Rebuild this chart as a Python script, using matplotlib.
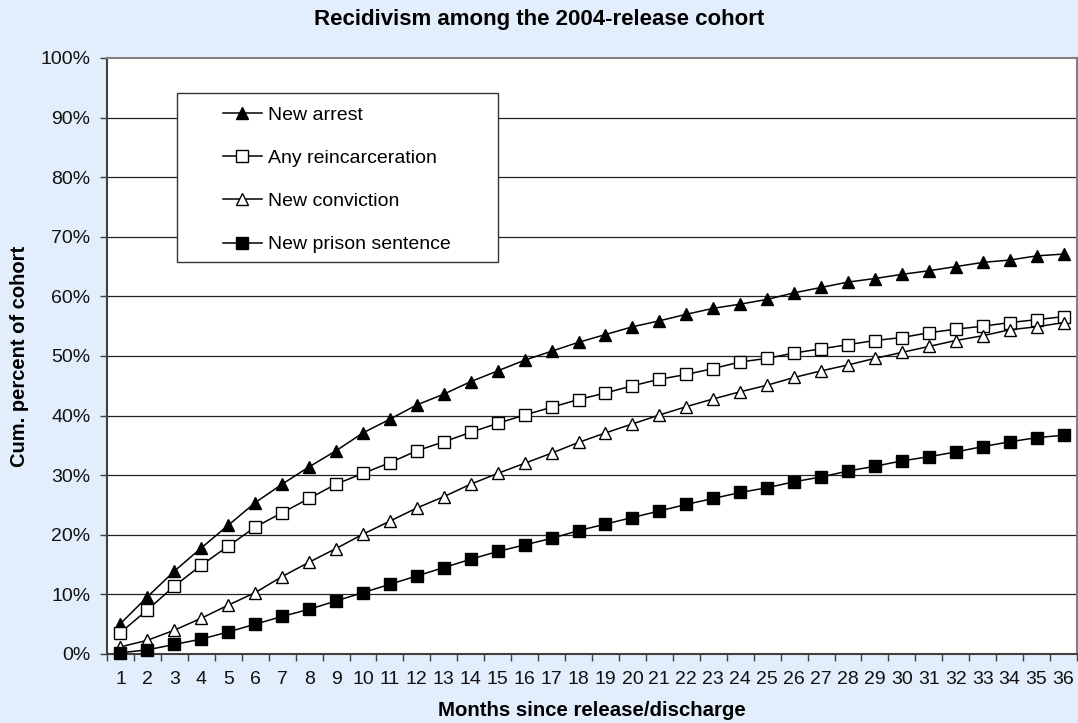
import matplotlib.pyplot as plt
from matplotlib.patches import Rectangle
from matplotlib.ticker import FixedLocator, NullFormatter

months = list(range(1, 37))

new_arrest = [5.1, 9.6, 13.9, 17.8, 21.6, 25.4, 28.5, 31.4, 34.1, 37.1,
              39.4, 41.8, 43.6, 45.7, 47.5, 49.3, 50.8, 52.3, 53.6, 54.9,
              55.9, 57.0, 58.0, 58.7, 59.5, 60.6, 61.5, 62.4, 63.0, 63.7,
              64.3, 65.0, 65.7, 66.1, 66.8, 67.1]

any_reincarceration = [3.6, 7.4, 11.4, 14.9, 18.1, 21.3, 23.7, 26.1, 28.5, 30.3,
                       32.1, 34.1, 35.6, 37.2, 38.7, 40.1, 41.4, 42.7, 43.8, 45.0,
                       46.1, 46.9, 47.9, 49.0, 49.6, 50.5, 51.2, 51.9, 52.6, 53.1,
                       53.9, 54.5, 55.0, 55.6, 56.1, 56.6]

new_conviction = [1.2, 2.3, 4.0, 6.0, 8.2, 10.3, 13.0, 15.4, 17.7, 20.1,
                  22.3, 24.5, 26.4, 28.5, 30.3, 32.0, 33.7, 35.5, 37.1, 38.6,
                  40.1, 41.5, 42.8, 44.0, 45.1, 46.4, 47.5, 48.5, 49.6, 50.6,
                  51.6, 52.6, 53.4, 54.4, 54.9, 55.6]

new_prison = [0.2, 0.7, 1.6, 2.5, 3.7, 5.0, 6.3, 7.5, 8.9, 10.3,
              11.7, 13.1, 14.5, 15.9, 17.2, 18.3, 19.4, 20.7, 21.8, 22.9,
              24.0, 25.1, 26.1, 27.1, 27.9, 28.9, 29.7, 30.7, 31.5, 32.4,
              33.1, 33.9, 34.8, 35.6, 36.3, 36.7]

y_ticks = list(range(0, 101, 10))
y_tick_labels = [f"{v}%" for v in y_ticks]

bg = "#E2EEFB"
plt.rcParams['font.family'] = ['Liberation Sans', 'DejaVu Sans']

fig = plt.figure(figsize=(10.78, 7.23), dpi=100, facecolor=bg)
ax = fig.add_axes([107 / 1078, 69 / 723, 970 / 1078, 596 / 723])
ax.set_facecolor("white")

style = dict(color="black", lw=1.1, mec="black", mew=1.0, clip_on=False, zorder=4)
ax.plot(months, new_arrest, marker="^", ms=9, mfc="black", label="New arrest", **style)
ax.plot(months, any_reincarceration, marker="s", ms=8, mfc="white", label="Any reincarceration", **style)
ax.plot(months, new_conviction, marker="^", ms=9, mfc="white", label="New conviction", **style)
ax.plot(months, new_prison, marker="s", ms=8, mfc="black", label="New prison sentence", **style)

ax.set_xlim(0.5, 36.5)
ax.set_ylim(0, 100)

# y axis: percent ticks with horizontal gridlines
ax.set_yticks(y_ticks)
ax.set_yticklabels(y_tick_labels)
ax.tick_params(axis="y", direction="out", length=5, width=1, color="#404040",
               pad=7, labelsize=14, labelcolor="#111111")
for v in y_ticks[1:-1]:
    ax.axhline(v, color="#222222", lw=0.9, zorder=1)

# x axis: labels at month centres, ticks between categories
ax.set_xticks(months)
ax.set_xticklabels([str(m) for m in months],
                   fontfamily=['Liberation Sans Narrow', 'Liberation Sans'])
ax.xaxis.set_minor_locator(FixedLocator([m + 0.5 for m in range(0, 37)]))
ax.xaxis.set_minor_formatter(NullFormatter())
ax.tick_params(axis="x", which="major", length=0, pad=12, labelsize=14, labelcolor="#111111")
ax.tick_params(axis="x", which="minor", direction="out", length=5, width=1, color="#404040")

for side in ["top", "right"]:
    ax.spines[side].set_color("#808080")
    ax.spines[side].set_linewidth(1.5)
for side in ["left", "bottom"]:
    ax.spines[side].set_color("#404040")
    ax.spines[side].set_linewidth(1.5)

# legend box drawn over the gridlines
ax.add_patch(Rectangle((70 / 970, 392 / 596), 321 / 970, 169 / 596, transform=ax.transAxes,
                       facecolor="white", edgecolor="#333333", lw=1.0, zorder=5))
leg = ax.legend(loc="upper left", bbox_to_anchor=(116 / 970, 548 / 596), frameon=False,
                fontsize=14, handlelength=2.0, handletextpad=0.3, labelspacing=1.32,
                borderpad=0, borderaxespad=0)
leg.set_zorder(6)

fig.text(0.5, 1 - 19 / 723, "Recidivism among the 2004-release cohort",
         ha="center", va="center", fontsize=16, fontweight="bold")
fig.text(20 / 1078, 1 - 356 / 723, "Cum. percent of cohort", rotation=90,
         ha="center", va="center", fontsize=14.5, fontweight="bold")
fig.text(592 / 1078, 1 - 711 / 723, "Months since release/discharge",
         ha="center", va="center", fontsize=14.7, fontweight="bold")

fig.savefig("out.png", dpi=100, facecolor=bg)
